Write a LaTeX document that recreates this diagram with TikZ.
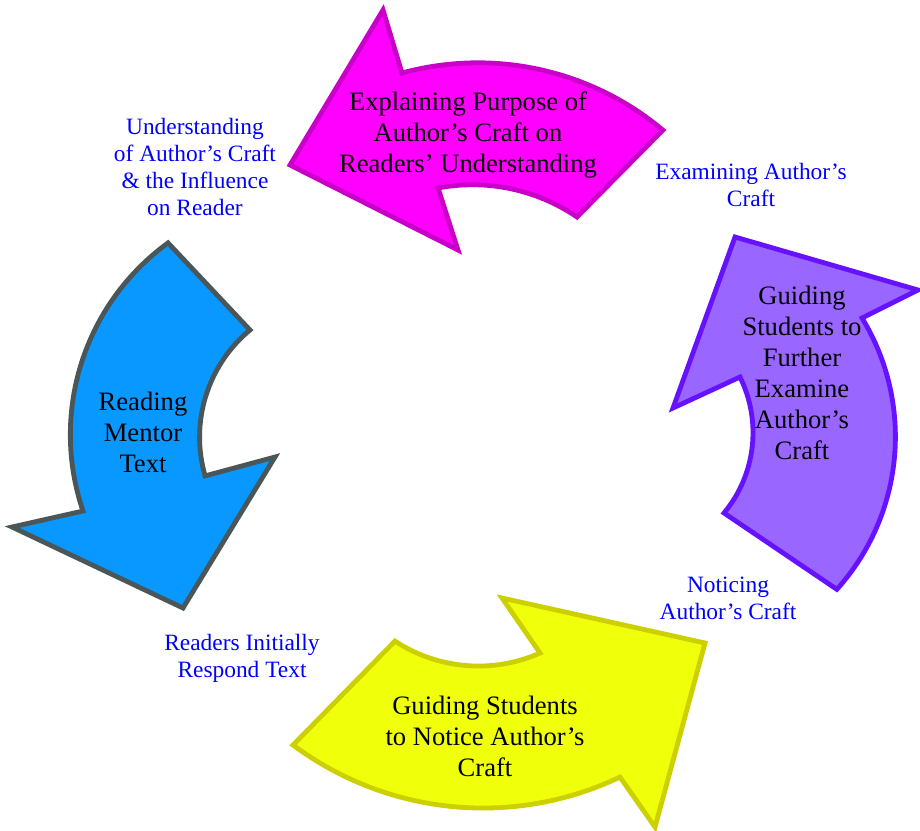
\documentclass[tikz,border=0pt]{standalone}
\usepackage{fontspec}
\setmainfont{Liberation Serif}
\usepackage{tikz}
\usetikzlibrary{positioning}
\definecolor{explainfill}{RGB}{255,0,255}
\definecolor{explainline}{RGB}{200,0,200}
\definecolor{readfill}{RGB}{8,152,255}
\definecolor{readline}{RGB}{74,86,88}
\definecolor{furtherfill}{RGB}{153,102,255}
\definecolor{furtherline}{RGB}{102,17,255}
\definecolor{noticefill}{RGB}{240,255,10}
\definecolor{noticeline}{RGB}{204,208,0}

\begin{document}
\begin{tikzpicture}[
  x=0.5pt, y=-0.5pt,
  cyclearrow/.style={line width=2.4pt, line join=miter},
  steptext/.style={align=center, text=black,
                   font=\fontsize{13.3}{15.5}\selectfont},
  stagelabel/.style={align=center, text=blue,
                     font=\fontsize{11.7}{13.6}\selectfont}
]
\useasboundingbox (0,0) rectangle (920,830);

% Top arrow
\draw[cyclearrow, fill=explainfill, draw=explainline]
  (290,165) -- (383,10) -- (402,73)
  arc[start angle=-105.3, end angle=-50, radius=287.7]
  -- (577,217)
  arc[start angle=-55.7, end angle=-100.7, radius=185.5]
  -- (458,250) -- cycle;

% Left arrow
\draw[cyclearrow, fill=readfill, draw=readline]
  (83,511) arc[start angle=161.2, end angle=234, radius=237]
  -- (250,330)
  arc[start angle=230.4, end angle=163.8, radius=139]
  -- (275,457) -- (183,608) -- (12,527) -- cycle;

% Bottom arrow
\draw[cyclearrow, fill=noticefill, draw=noticeline]
  (293,745) arc[start angle=126.7, end angle=64.5, radius=318]
  -- (655,827) -- (705,643) -- (502,598) -- (540,653)
  arc[start angle=66.1, end angle=123.3, radius=152]
  -- cycle;

% Right arrow
\draw[cyclearrow, fill=furtherfill, draw=furtherline]
  (735,237) -- (918,290) -- (862,318)
  arc[start angle=-31.4, end angle=42, radius=228]
  -- (724,513)
  arc[start angle=39.7, end angle=-26.3, radius=125.7]
  -- (673,408) -- cycle;

% Step texts
\node[steptext] (explain) at (468,135)
  {Explaining Purpose of\\Author's Craft on\\Readers' Understanding};
\node[steptext] (reading) at (143,432) {Reading\\Mentor\\Text};
\node[steptext] (notice) at (485,736)
  {Guiding Students\\to Notice Author's\\Craft};
\node[steptext] (further) at (802,373)
  {Guiding\\Students to\\Further\\Examine\\Author's\\Craft};

% Stage labels
\node[stagelabel] (lbinfluence) at (195,167)
  {Understanding\\of Author's Craft\\\& the Influence\\on Reader};
\node[stagelabel] (lbexamining) at (751,185) {Examining Author's\\Craft};
\node[stagelabel] (lbnoticing) at (728,598) {Noticing\\Author's Craft};
\node[stagelabel] (lbrespond) at (242,658) {Readers Initially\\Respond Text};

\end{tikzpicture}
\end{document}
